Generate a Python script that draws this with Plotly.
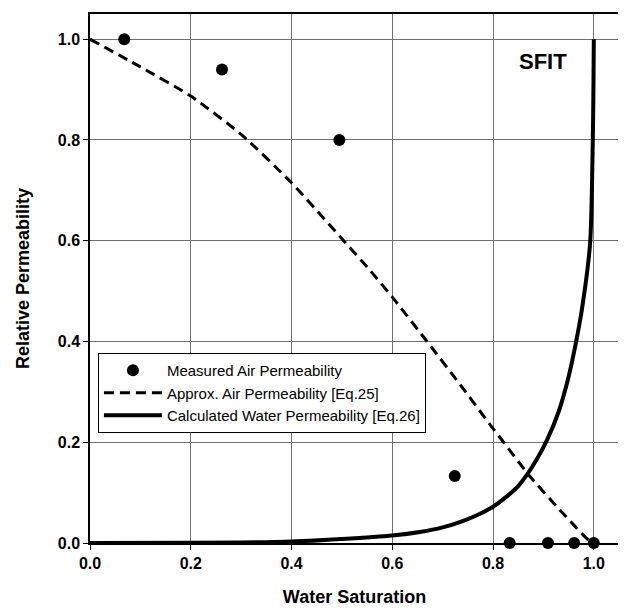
import plotly.graph_objects as go

# Measured air permeability
meas_x = [0.068, 0.262, 0.495, 0.724, 0.833, 0.909, 0.961, 1.0]
meas_y = [1.0, 0.94, 0.80, 0.133, 0.0, 0.0, 0.0, 0.0]

# Approx. air permeability [Eq.25]
air_x = [0.0, 0.1, 0.2, 0.3, 0.4, 0.5, 0.556, 0.6, 0.669, 0.735, 0.8, 0.821, 0.8685, 0.933, 0.96, 0.986, 1.0]
air_y = [1.0, 0.945, 0.887, 0.811, 0.715, 0.604, 0.541, 0.488, 0.40, 0.314, 0.227, 0.200, 0.138, 0.065, 0.036, 0.009, 0.0]

# Calculated water permeability [Eq.26]
wat_x = [0.0, 0.2, 0.3, 0.4, 0.5, 0.6, 0.655, 0.7, 0.741, 0.77, 0.8, 0.828, 0.85, 0.8685, 0.888, 0.907, 0.93, 0.95, 0.965, 0.975, 0.98, 0.987, 0.993, 0.998, 1.0]
wat_y = [0.0, 0.0005, 0.001, 0.003, 0.008, 0.015, 0.022, 0.031, 0.044, 0.056, 0.072, 0.093, 0.113, 0.137, 0.168, 0.204, 0.26, 0.33, 0.40, 0.455, 0.488, 0.54, 0.60, 0.80, 1.0]

x_ticks = [0.0, 0.2, 0.4, 0.6, 0.8, 1.0]
y_ticks = [0.0, 0.2, 0.4, 0.6, 0.8, 1.0]

FONT = "Arial, Liberation Sans, sans-serif"

fig = go.Figure()
fig.add_trace(go.Scatter(x=meas_x, y=meas_y, mode="markers", name="Measured Air Permeability",
                         marker=dict(color="black", size=12), cliponaxis=False))
fig.add_trace(go.Scatter(x=air_x, y=air_y, mode="lines", name="Approx. Air Permeability [Eq.25]",
                         line=dict(color="black", width=3, dash="10px,6px", shape="spline", smoothing=0.6)))
fig.add_trace(go.Scatter(x=wat_x, y=wat_y, mode="lines", name="Calculated Water Permeability [Eq.26]",
                         line=dict(color="black", width=4, shape="spline", smoothing=0.9)))

axis_common = dict(
    range=[0, 1.05], showgrid=True, gridcolor="#707070", gridwidth=1,
    showline=True, linecolor="black", linewidth=1.5, mirror=True,
    ticks="outside", ticklen=5, tickcolor="black", tickwidth=1,
    zeroline=False,
    tickfont=dict(family=FONT, size=16, color="black"),
)

fig.update_layout(
    width=618, height=603,
    margin=dict(l=82, r=7, t=4, b=68),
    paper_bgcolor="white", plot_bgcolor="white",
    font=dict(family=FONT, color="black"),
    xaxis=dict(**axis_common, tickvals=x_ticks, ticktext=[f"<b>{v:.1f}</b>" for v in x_ticks],
               title=dict(text="<b>Water Saturation</b>", font=dict(family=FONT, size=18), standoff=19)),
    yaxis=dict(**axis_common, tickvals=y_ticks, ticktext=[f"<b>{v:.1f}</b>" for v in y_ticks],
               title=dict(text="<b>Relative Permeability</b>", font=dict(family=FONT, size=18), standoff=23)),
    legend=dict(x=0.015, y=0.359, xanchor="left", yanchor="top",
                bgcolor="white", bordercolor="black", borderwidth=1,
                font=dict(family=FONT, size=15, color="black"),
                tracegroupgap=0, itemwidth=58),
    showlegend=True,
    annotations=[dict(x=0.9, y=0.956, xref="x", yref="y", text="<b>SFIT</b>", showarrow=False,
                      font=dict(family=FONT, size=22, color="black"))],
)

fig.write_html("out.html")
